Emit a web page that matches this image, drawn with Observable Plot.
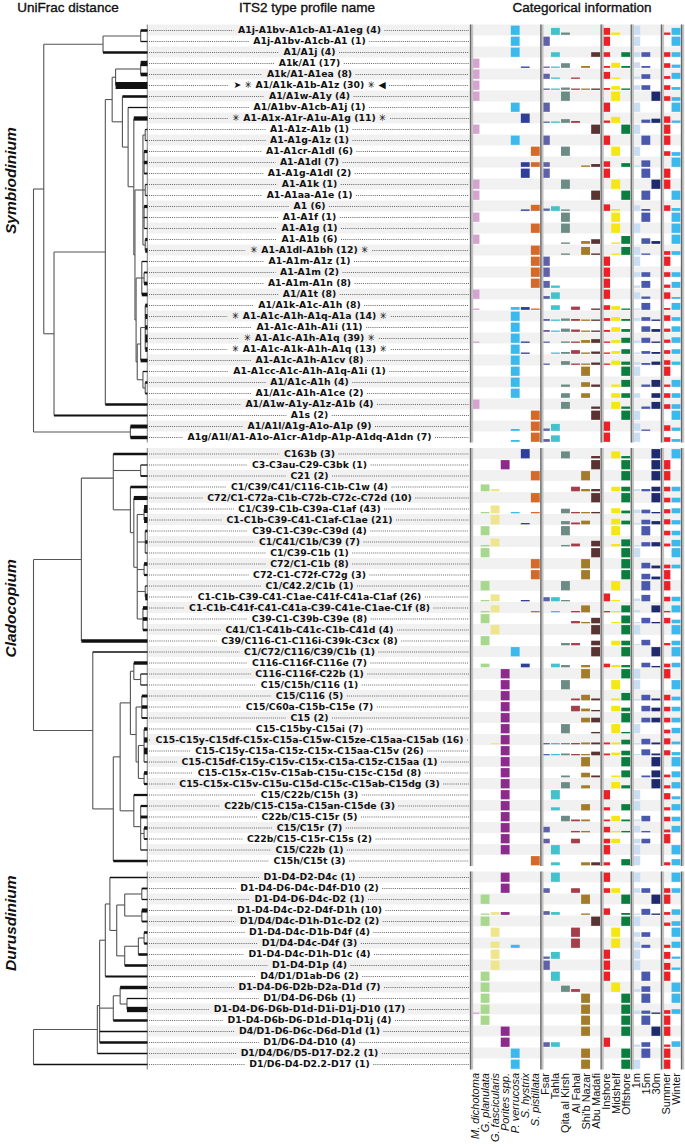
<!DOCTYPE html>
<html><head><meta charset="utf-8">
<script src="https://cdn.jsdelivr.net/npm/d3@7"></script>
<script src="https://cdn.jsdelivr.net/npm/@observablehq/plot@0.6"></script>
<style>
body{margin:0;background:#fff;}
#wrap{position:relative;width:685px;height:1147px;overflow:hidden;font-family:"Liberation Sans",Arial,sans-serif;}
#wrap svg{position:absolute;top:0;}
.hdr{position:absolute;top:0px;font-size:13.5px;transform:translateX(-50%);white-space:nowrap;color:#111;-webkit-text-stroke:0.35px #111;}
</style></head><body><div id="wrap"></div>
<script>
// ---------------- DATA ----------------
const headers = ["UniFrac distance", "ITS2 type profile name", "Categorical information"];
const genusNames = ["Symbiodinium", "Cladocopium", "Durusdinium"];

const speciesNames = ["M. dichotoma", "G. planulata", "G. fascicularis", "Porites spp.", "P. verrucosa", "S. hystrix", "S. pistillata"];
const siteNames = ["Fsar", "Tahla", "Qita al Kirsh", "Al Fahal", "Shi'b Nazar", "Abu Madafi"];
const reefNames = ["Inshore", "Midshelf", "Offshore"];
const depthNames = ["1m", "15m", "30m"];
const seasonNames = ["Summer", "Winter"];

const speciesColors = ["#d6a2cf", "#a8d78e", "#efe58c", "#8c2b8c", "#3cb9ec", "#2f3f99", "#d5692a"];
const siteColors = ["#5f61a9", "#42c2cc", "#6c8b84", "#a63d4b", "#a27b2b", "#593232"];
const reefColors = ["#ee2027", "#f5e615", "#0b7e3f"];
const depthColors = ["#c9ddf3", "#4b59ad", "#1f2a6e"];
const seasonColors = ["#ee2027", "#3cb9ec"];

const symLabels = ["A1j-A1bv-A1cb-A1-A1eg (4)","A1j-A1bv-A1cb-A1 (1)","A1/A1j (4)","A1k/A1 (17)","A1k/A1-A1ea (8)","A1/A1k-A1b-A1z (30)","A1/A1w-A1y (4)","A1/A1bv-A1cb-A1j (1)","A1-A1x-A1r-A1u-A1g (11)","A1-A1z-A1b (1)","A1-A1g-A1z (1)","A1-A1cr-A1dl (6)","A1-A1dl (7)","A1-A1g-A1dl (2)","A1-A1k (1)","A1-A1aa-A1e (1)","A1 (6)","A1-A1f (1)","A1-A1g (1)","A1-A1b (6)","A1-A1dl-A1bh (12)","A1-A1m-A1z (1)","A1-A1m (2)","A1-A1m-A1n (8)","A1/A1t (8)","A1/A1k-A1c-A1h (8)","A1-A1c-A1h-A1q-A1a (14)","A1-A1c-A1h-A1i (11)","A1-A1c-A1h-A1q (39)","A1-A1c-A1k-A1h-A1q (13)","A1-A1c-A1h-A1cv (8)","A1-A1cc-A1c-A1h-A1q-A1i (1)","A1/A1c-A1h (4)","A1/A1c-A1h-A1ce (2)","A1/A1w-A1y-A1z-A1b (4)","A1s (2)","A1/A1l/A1g-A1o-A1p (9)","A1g/A1l/A1-A1o-A1cr-A1dp-A1p-A1dq-A1dn (7)"];
const symStarred = [5, 8, 20, 26, 28, 29];
const symArrow = [5];

const cladoLabels = ["C163b (3)","C3-C3au-C29-C3bk (1)","C21 (2)","C1/C39/C41/C116-C1b-C1w (4)","C72/C1-C72a-C1b-C72b-C72c-C72d (10)","C1/C39-C1b-C39a-C1af (43)","C1-C1b-C39-C41-C1af-C1ae (21)","C39-C1-C39c-C39d (4)","C1/C41/C1b/C39 (7)","C1/C39-C1b (1)","C72/C1-C1b (8)","C72-C1-C72f-C72g (3)","C1/C42.2/C1b (1)","C1-C1b-C39-C41-C1ae-C41f-C41a-C1af (26)","C1-C1b-C41f-C41-C41a-C39-C41e-C1ae-C1f (8)","C39-C1-C39b-C39e (8)","C41/C1-C41b-C41c-C1b-C41d (4)","C39/C116-C1-C116i-C39k-C3cx (8)","C1/C72/C116/C39/C1b (1)","C116-C116f-C116e (7)","C116-C116f-C22b (1)","C15/C15h/C116 (1)","C15/C116 (5)","C15/C60a-C15b-C15e (7)","C15 (2)","C15-C15by-C15ai (7)","C15-C15y-C15df-C15x-C15a-C15w-C15ze-C15aa-C15ab (16)","C15-C15y-C15a-C15z-C15x-C15aa-C15v (26)","C15-C15df-C15y-C15v-C15x-C15a-C15z-C15aa (1)","C15-C15x-C15v-C15ab-C15u-C15c-C15d (8)","C15-C15x-C15v-C15u-C15d-C15c-C15ab-C15dg (3)","C15/C22b/C15h (3)","C22b/C15-C15a-C15an-C15de (3)","C22b/C15-C15r (5)","C15/C15r (7)","C22b/C15-C15r-C15s (2)","C15/C22b (1)","C15h/C15t (3)"];

const durLabels = ["D1-D4-D2-D4c (1)","D1-D4-D6-D4c-D4f-D10 (2)","D1-D4-D6-D4c-D2 (1)","D1-D4-D4c-D2-D4f-D1h (10)","D1/D4/D4c-D1h-D1c-D2 (2)","D1-D4-D4c-D1b-D4f (4)","D1/D4-D4c-D4f (3)","D1-D4-D4c-D1h-D1c (4)","D1-D4-D1p (4)","D4/D1/D1ab-D6 (2)","D1-D4-D6-D2b-D2a-D1d (7)","D1/D4-D6-D6b (1)","D1-D4-D6-D6b-D1d-D1i-D1j-D10 (17)","D1-D4-D6b-D6-D1d-D1q-D1j (4)","D4/D1-D6-D6c-D6d-D1d (1)","D1/D6-D4-D10 (4)","D1/D4/D6/D5-D17-D2.2 (1)","D1/D6-D4-D2.2-D17 (1)"];

// dendrograms: [height, child, child, ...]; leaves are row indices
const symTree = [1.0,
  [0.91,
    [0.39, [0.06, 0, 1], 2],
    [0.82,
      [0.37,
        [0.31,
          [0.28, [0.06, 3, 4], 5],
          [0.22, 6,
            [0.17, 7,
              [0.12, 8,
                [0.11,
                  [0.04, [0.02, 9, 10], [0.03, 11, 12, 13], [0.02, 14, 15], [0.03, 16, 17, 18], [0.02, 19, 20]],
                  [0.1,
                    [0.05, 21, [0.03, 22, 23], 24],
                    [0.09, [0.06, [0.02, 25, 26, 27, 28, 29], 30], [0.04, 31, [0.02, 32, 33]]]]]]]]],
        34],
      35]],
  [0.15, 36, 37]];

const cladoTree = [1.0,
  [0.58,
    [0.30, 0, [0.06, 1, 2],
      [0.15, 3, [0.12, 4, [0.09, [0.03, 5, 6], [0.02, 7, 8, 9], [0.03, 10, 11], [0.02, 12, 13], [0.04, 14, 15, 16]]]]],
    17],
  [0.48, 18,
    [0.30,
      [0.24,
        [0.15, [0.12, 19, [0.06, 20, 21]], [0.1, [0.05, 22, 23, 24], [0.08, [0.03, 25, 26, 27, 28], [0.03, 29, 30]]]],
        [0.12, 31, [0.06, 32, 33, [0.03, 34, 35], 36]]],
      37]]];

const durTree = [1.0,
  [0.44,
    [0.42,
      [0.37,
        [0.33, 0,
          [0.27,
            [0.2, [0.05, 1, 2], [0.05, 3, 4]],
            [0.2, [0.08, [0.03, 5, 6], 7], 8]]],
        9],
      [0.3, [0.24, 10, [0.18, 11, 12]], 13],
      14, 15],
    16],
  17];

// categorical proportions per row
const symSpecies = [[0,0,0,0,1,0,0],[0,0,0,0,1,0,0],[0,0,0,0,1,0,0],[1,0,0,0,0,.06,0],[1,0,0,0,0,0,0],[1,0,0,0,0,0,0],[1,0,0,0,0,0,0],[0,0,0,0,1,0,0],[0,0,0,0,0,1,0],[1,0,0,0,0,0,0],[0,0,0,0,1,0,0],[0,0,0,0,0,0,1],[0,0,0,0,0,.5,.5],[0,0,0,0,0,1,0],[1,0,0,0,0,0,0],[1,0,0,0,0,0,0],[0,0,0,0,0,.15,.65],[1,0,0,0,0,0,0],[0,0,0,0,0,0,1],[1,0,0,0,0,0,0],[0,0,0,0,0,0,1],[0,0,0,0,0,0,1],[0,0,0,0,0,0,1],[0,0,0,0,0,0,1],[1,0,0,0,0,0,0],[.12,0,0,0,.3,.3,.12],[0,0,0,0,1,0,0],[0,0,0,0,1,0,0],[.05,0,0,0,1,.05,0],[0,0,0,0,1,.1,0],[0,0,0,0,1,0,0],[0,0,0,0,1,0,0],[0,0,0,0,1,0,0],[0,0,0,0,1,0,0],[1,0,0,0,0,0,0],[0,0,0,0,0,0,1],[0,0,0,0,.2,0,1],[0,0,0,0,.2,0,1]];
const symSite = [[0,.75,.25,0,0,0],[1,0,0,0,0,0],[0,.5,0,0,0,.5],[.06,.06,.5,0,.2,0],[.55,.12,0,.12,0,0],[.1,.1,.25,.1,.1,.1],[0,0,1,0,0,0],[1,0,0,0,0,0],[.1,.15,.4,.2,0,0],[0,0,0,0,0,1],[1,0,0,0,0,0],[0,0,1,0,0,0],[.5,0,0,0,.15,.3],[1,0,0,0,0,0],[0,0,1,0,0,0],[0,0,0,0,0,1],[.25,.5,.15,0,0,0],[0,0,1,0,0,0],[0,0,1,0,0,0],[0,0,.15,0,.3,.5],[0,0,.15,0,.85,.15],[1,0,0,0,0,0],[1,0,0,0,0,0],[.75,.25,0,0,0,0],[.3,.7,0,0,0,0],[0,.5,0,.35,0,.1],[.2,.1,.25,.2,.1,.1],[.2,.1,.35,.25,.1,.1],[.1,0,.15,.1,.3,.4],[0,.1,.2,.4,.15,.25],[.1,0,.4,.1,.1,.25],[0,0,0,0,1,0],[0,0,.25,0,.5,.25],[0,0,.5,0,.5,0],[0,0,.75,0,0,.25],[0,0,0,0,0,1],[.25,.75,0,0,0,0],[.3,.7,0,0,0,0]];
const symReef = [[.75,.25,0],[1,0,0],[.5,0,.5],[.2,.55,.2],[.75,.12,0],[.2,.4,.15],[0,1,0],[1,0,0],[.25,.65,0],[0,0,1],[1,0,0],[0,1,0],[.6,0,.4],[1,0,0],[0,1,0],[0,0,1],[.7,.2,0],[0,1,0],[0,1,0],[0,.15,.85],[0,.15,.85],[1,0,0],[1,0,0],[1,0,0],[1,0,0],[.5,.4,.1],[.3,.4,.2],[.2,.5,.3],[.15,.3,.55],[.15,.3,.5],[.1,.45,.35],[0,0,1],[0,.25,.75],[0,.5,.5],[0,.75,.25],[0,0,1],[1,0,0],[1,0,0]];
const symDepth = [[1,0,0],[1,0,0],[.5,.5,0],[.6,.2,0],[.25,.5,0],[.5,.5,0],[0,0,1],[1,0,0],[0,.35,.45],[1,0,0],[0,1,0],[1,0,0],[.15,.7,0],[0,1,0],[0,0,1],[0,1,0],[.6,.2,0],[0,1,0],[1,0,0],[0,.6,.3],[.85,.15,0],[1,0,0],[.5,.5,0],[.25,.75,0],[.7,.25,0],[.1,.75,0],[.3,.4,.1],[0,.6,.3],[.25,.55,.1],[.1,.3,.2],[.3,.2,.35],[1,0,0],[0,.25,.75],[.5,0,.5],[0,.25,.75],[1,0,0],[.8,.1,0],[1,0,0]];
const symSeason = [[.25,.75],[0,1],[.5,.5],[.5,.35],[.3,.65],[.5,.3],[.5,.4],[0,1],[.7,.25],[1,0],[1,0],[.5,.4],[0,1],[1,0],[1,0],[0,1],[.6,.3],[0,1],[0,1],[0,1],[.4,.4],[1,0],[.5,.5],[.35,.65],[.7,.2],[.2,.75],[.6,.4],[.35,.6],[.35,.6],[.4,.5],[.5,.35],[1,0],[.25,.75],[.5,.5],[.5,.5],[0,1],[.6,.35],[.5,.3]];

const cladoSpecies = [[0,0,0,0,0,1,0],[0,0,0,1,0,0,0],[0,0,0,0,0,0,1],[0,.75,.25,0,0,0,0],[0,0,0,0,0,0,1],[0,.05,.85,0,.05,0,.05],[0,0,1,0,0,.1,0],[0,1,0,0,0,0,0],[0,.15,.85,0,0,0,0],[0,1,0,0,0,0,0],[0,0,0,0,0,0,1],[0,0,0,0,0,0,1],[0,1,0,0,0,0,0],[0,.1,.75,0,0,.1,0],[0,.1,.75,0,0,0,.1],[0,1,0,0,0,0,0],[0,0,1,0,0,0,0],[0,1,0,0,0,0,0],[0,0,0,0,1,0,0],[0,.4,0,0,0,.4,0],[0,0,0,1,0,0,0],[0,0,0,1,0,0,0],[0,0,0,1,0,0,0],[0,0,0,1,0,0,0],[0,0,0,1,0,0,0],[0,0,0,1,0,0,0],[0,0,.05,1,0,0,0],[0,0,0,1,0,0,0],[0,0,0,1,0,0,0],[0,0,0,1,0,0,0],[0,0,0,1,0,0,0],[0,0,0,1,0,0,0],[0,0,0,1,0,0,0],[0,0,0,1,0,0,0],[0,0,0,1,0,0,0],[0,0,0,1,0,0,0],[0,0,0,1,0,0,0],[0,0,0,0,0,0,1]];
const cladoSite = [[0,0,.75,0,0,.25],[0,0,0,0,0,1],[0,0,0,0,1,0],[0,0,0,.5,.25,.25],[0,0,0,0,0,1],[0,0,.5,.15,.1,.15],[0,0,.35,.2,.4,0],[0,0,1,0,0,0],[0,0,.15,.3,0,.6],[0,0,0,0,0,1],[0,0,0,0,1,0],[0,0,0,0,1,0],[0,0,1,0,0,0],[.45,.45,.1,0,0,0],[0,.12,0,.12,.75,0],[0,0,0,.25,.15,.6],[0,0,0,0,0,1],[0,0,.25,.25,0,.5],[0,0,0,0,0,1],[0,.4,.25,0,.25,0],[0,0,0,0,1,0],[0,0,1,0,0,0],[0,0,0,.2,.6,.2],[0,0,0,.6,.3,.15],[0,0,0,0,.5,.5],[0,0,1,0,0,.15],[.1,.05,.1,.1,.2,.2],[.05,.15,.2,.1,.1,.4],[0,0,0,0,1,0],[0,0,.2,0,.5,.2],[0,0,.67,0,.33,0],[0,1,0,0,0,0],[0,.33,0,0,.67,0],[0,0,.6,.2,.2,0],[.6,0,0,.15,.15,0],[.5,0,0,.5,0,0],[0,1,0,0,0,0],[0,.33,0,0,.33,.33]];
const cladoReef = [[0,.75,.25],[0,0,1],[0,0,1],[0,.5,.5],[0,0,1],[0,.55,.3],[0,.6,.4],[0,1,0],[0,.25,.75],[0,0,1],[0,0,1],[0,0,1],[0,1,0],[.85,.1,0],[.12,.12,.75],[0,.15,.85],[0,0,1],[0,.5,.5],[0,0,1],[.4,.25,.25],[0,0,1],[0,1,0],[0,.2,.8],[0,.6,.4],[0,0,1],[0,1,.15],[.2,.2,.5],[.2,.3,.5],[0,0,1],[0,.2,.75],[0,.67,.33],[1,0,0],[.33,0,.67],[.2,.6,.2],[.6,.15,.15],[.5,.5,0],[1,0,0],[.33,0,.67]];
const cladoDepth = [[0,0,1],[0,0,1],[0,0,1],[.25,.25,.5],[0,0,1],[.4,.4,.1],[.1,.5,.35],[0,1,0],[.1,.45,.45],[1,0,0],[0,.6,.3],[0,.6,.3],[0,1,0],[.3,.7,0],[.25,0,.75],[.1,.6,.15],[1,0,0],[.1,.6,0],[0,0,1],[0,.5,.15],[1,0,0],[1,0,0],[.1,.6,.2],[0,.6,.4],[0,.5,.5],[1,0,0],[.1,.6,.2],[.05,.65,.2],[0,0,1],[0,.2,.75],[0,0,1],[1,0,0],[1,0,0],[.2,.6,0],[.7,.15,0],[.5,.5,0],[1,0,0],[1,0,0]];
const cladoSeason = [[0,1],[1,0],[1,0],[.5,.5],[.5,.5],[.45,.55],[.55,.45],[.5,.5],[.3,.7],[0,1],[.4,.4],[1,0],[1,0],[.5,.5],[.15,.75],[.6,.4],[0,1],[.25,.5],[0,1],[.4,.5],[1,0],[0,1],[.6,.4],[.5,.5],[.5,.5],[.4,.6],[.65,.3],[.55,.35],[0,1],[.3,.65],[.33,.67],[.67,.33],[.33,.67],[.5,.5],[.3,.7],[1,0],[0,1],[.33,.67]];

const durSpecies = [[0,0,0,1,0,0,0],[0,0,0,1,0,0,0],[0,1,0,0,0,0,0],[0,.1,.3,.3,0,0,0],[0,1,0,0,0,0,0],[0,0,1,0,0,0,0],[0,0,.67,0,.33,0,0],[0,0,1,0,0,0,0],[0,0,1,0,0,0,0],[0,1,0,0,0,0,0],[0,1,0,0,0,0,0],[0,1,0,0,0,0,0],[.05,1,0,0,0,0,0],[0,1,0,0,0,0,0],[0,0,0,1,0,0,0],[0,0,0,1,0,0,0],[0,0,0,0,1,0,0],[0,0,0,0,1,0,0]];
const durSite = [[0,1,0,0,0,0],[.5,0,0,.5,0,0],[0,0,0,0,1,0],[.4,.3,0,0,.15,0],[0,0,0,0,0,1],[0,0,0,1,0,0],[0,0,0,1,0,0],[.25,.75,0,0,0,0],[1,0,0,0,0,0],[0,1,0,0,0,0],[0,0,.67,.3,0,0],[0,0,0,0,1,0],[0,0,0,0,1,0],[0,0,0,0,1,0],[0,0,0,0,1,0],[.5,.5,0,0,0,0],[0,0,0,0,1,0],[0,0,0,0,1,0]];
const durReef = [[1,0,0],[.5,.5,0],[0,0,1],[.7,0,.2],[0,0,1],[0,1,0],[0,1,0],[1,0,0],[1,0,0],[1,0,0],[0,1,0],[0,0,1],[0,0,1],[0,0,1],[0,0,1],[1,0,0],[0,0,1],[0,0,1]];
const durDepth = [[1,0,0],[.5,.5,0],[0,0,1],[.1,.65,.1],[1,0,0],[.5,.5,0],[.67,.33,0],[1,0,0],[1,0,0],[0,1,0],[.3,.6,0],[0,1,0],[.35,.35,.1],[0,1,0],[0,0,1],[.25,.5,0],[0,1,0],[1,0,0]];
const durSeason = [[0,1],[.5,.5],[1,0],[.3,.6],[.35,.5],[0,1],[.33,.67],[.75,.25],[.75,.25],[1,0],[0,1],[0,1],[.4,.5],[1,0],[1,0],[.25,.6],[1,0],[1,0]];

// ---------------- BUILD ----------------
const genera = [
  {labels: symLabels, tree: symTree, starred: symStarred, arrow: symArrow, species: symSpecies, site: symSite, reef: symReef, depth: symDepth, season: symSeason},
  {labels: cladoLabels, tree: cladoTree, starred: [], arrow: [], species: cladoSpecies, site: cladoSite, reef: cladoReef, depth: cladoDepth, season: cladoSeason},
  {labels: durLabels, tree: durTree, starred: [], arrow: [], species: durSpecies, site: durSite, reef: durReef, depth: durDepth, season: durSeason}
];
const GAP = 0.5;
const groupStart = [];
{ let s = 0; genera.forEach(g => { groupStart.push(s); s += g.labels.length + GAP; }); }
const nRowsTotal = groupStart[2] + genera[2].labels.length;

const W = 685, H = 1147, MT = 24.5, MB = 77.5;
const Y = {domain: [-0.5, nRowsTotal - 0.5], range: [MT, H - MB], axis: null};

const LABEL_FONT = "bold 9.3px 'DejaVu Sans'";
const ctx = document.createElement("canvas").getContext("2d");
ctx.font = LABEL_FONT;

const rows = [];
genera.forEach((g, gi) => g.labels.forEach((label, i) => {
  const n = +label.match(/\((\d+)\)\s*$/)[1];
  let text = label;
  if (g.starred.includes(i)) text = "\u2733 " + text + " \u2733";
  if (g.arrow.includes(i)) text = "\u27A4 " + text + " \u25C0";
  rows.push({gi, i, label: text, n, pos: groupStart[gi] + i, grey: i % 2 === 0, w: ctx.measureText(text).width});
}));

const groupExtents = genera.map((g, gi) => ({y1: groupStart[gi] - 0.5, y2: groupStart[gi] + g.labels.length - 0.5}));

// dendrogram segments
const intSegs = [], leafSegs = [];
genera.forEach((g, gi) => {
  const walk = node => {
    if (typeof node === "number") return {y: groupStart[gi] + node, h: 0, n: +g.labels[node].match(/\((\d+)\)\s*$/)[1], leaf: true};
    const [h, ...kids] = node;
    const ks = kids.map(walk);
    const ys = ks.map(k => k.y);
    intSegs.push({x1: h, x2: h, y1: d3.min(ys), y2: d3.max(ys)});
    ks.forEach(k => (k.leaf ? leafSegs : intSegs).push({x1: h, x2: k.h, y1: k.y, y2: k.y, n: k.n}));
    return {y: d3.mean(ys), h};
  };
  walk(g.tree);
});
const genusLabels = genera.map((g, gi) => ({name: genusNames[gi], pos: groupStart[gi] + (g.labels.length - 1) / 2}));

// categorical bars
const catGroups = [
  {key: "species", names: speciesNames, colors: speciesColors},
  {key: "site", names: siteNames, colors: siteColors},
  {key: "reef", names: reefNames, colors: reefColors},
  {key: "depth", names: depthNames, colors: depthColors},
  {key: "season", names: seasonNames, colors: seasonColors}
];
let off = 0;
catGroups.forEach(cg => { cg.offset = off; off += cg.names.length; });
const nCols = off;
const colNames = catGroups.flatMap(cg => cg.names);
const bars = rows.flatMap(r => catGroups.flatMap(cg =>
  genera[r.gi][cg.key][r.i].map((v, j) => ({col: cg.offset + j, v, pos: r.pos, fill: cg.colors[j]}))
)).filter(b => b.v > 0);
const sepCols = [...catGroups.map(cg => cg.offset - 0.5), nCols - 0.5];
const seps = groupExtents.flatMap(e => sepCols.map(x => ({x, y1: e.y1, y2: e.y2})));

// ---------------- PLOTS ----------------
const wrap = document.getElementById("wrap");

const dendro = Plot.plot({
  width: 148, height: H, marginLeft: 33, marginRight: 1, marginTop: MT, marginBottom: MB,
  x: {domain: [1, 0], range: [33, 147], axis: null},
  y: Y,
  style: {fontFamily: "'Liberation Sans', Arial, sans-serif", background: "transparent"},
  marks: [
    Plot.ruleX(groupExtents, {x: 0, y1: "y1", y2: "y2", stroke: "#9c9c9c", strokeWidth: 1.6}),
    Plot.link(intSegs, {x1: "x1", y1: "y1", x2: "x2", y2: "y2", stroke: "#555", strokeWidth: 1.1}),
    Plot.link(leafSegs, {x1: "x1", y1: "y1", x2: "x2", y2: "y2", stroke: "#111", strokeWidth: d => Math.min(8, Math.max(1.1, 1.3 * Math.sqrt(d.n)))}),
    Plot.text(genusLabels, {y: "pos", text: "name", frameAnchor: "left", dx: -22, rotate: -90, fontSize: 15.5, fontWeight: "bold", fontStyle: "italic", fill: "#111"})
  ]
});
dendro.style.left = "0px";

const LW = 322, GAPPX = 4;
const leaders = rows.flatMap(r => {
  const half = (r.w / 2 + GAPPX) / LW;
  return [{pos: r.pos, x1: 1 / LW, x2: 0.5 - half}, {pos: r.pos, x1: 0.5 + half, x2: 1 - 1 / LW}];
});
const labels = Plot.plot({
  width: LW, height: H, marginLeft: 0, marginRight: 0, marginTop: MT, marginBottom: MB,
  x: {domain: [0, 1], range: [0, LW], axis: null},
  y: Y,
  style: {background: "transparent"},
  marks: [
    Plot.rect(rows.filter(r => r.grey), {y1: r => r.pos - 0.5, y2: r => r.pos + 0.5, fill: "#f1f1f1"}),
    Plot.ruleY(leaders, {y: "pos", x1: "x1", x2: "x2", stroke: "#555", strokeWidth: 0.9, strokeDasharray: "1,1.1"}),
    Plot.text(rows, {y: "pos", text: "label", frameAnchor: "middle", fontFamily: "DejaVu Sans", fontWeight: "bold", fontSize: 9.3, fill: "#111"})
  ]
});
labels.style.left = "148px";

const cats = Plot.plot({
  width: 219, height: H, marginLeft: 4, marginRight: 4, marginTop: MT, marginBottom: MB,
  x: {domain: [-0.5, nCols - 0.5], range: [4, 215]},
  y: Y,
  color: {type: "identity"},
  style: {fontFamily: "'Liberation Sans', Arial, sans-serif", background: "transparent", color: "#111"},
  marks: [
    Plot.rect(rows.filter(r => r.grey), {y1: r => r.pos - 0.5, y2: r => r.pos + 0.5, fill: "#f1f1f1"}),
    Plot.rect(bars, {x1: b => b.col - 0.44, x2: b => b.col + 0.44, y1: b => b.pos + 0.44 - Math.max(0.12, 0.84 * b.v), y2: b => b.pos + 0.44, fill: "fill"}),
    Plot.ruleX(seps, {x: "x", y1: "y1", y2: "y2", stroke: "#c4c4c4", strokeWidth: 2.6, dx: 1.4}),
    Plot.ruleX(seps, {x: "x", y1: "y1", y2: "y2", stroke: "#666", strokeWidth: 1.3}),
    Plot.axisX(d3.range(0, speciesNames.length), {anchor: "bottom", tickFormat: i => colNames[i], tickRotate: -90, tickSize: 0, tickPadding: 3, fontSize: 11, fontStyle: "italic", label: null}),
    Plot.axisX(d3.range(speciesNames.length, nCols), {anchor: "bottom", tickFormat: i => colNames[i], tickRotate: -90, tickSize: 0, tickPadding: 3, fontSize: 11, label: null})
  ]
});
cats.style.left = "466px";

wrap.append(dendro, labels, cats);

const hdrX = [68, 307, 582];
headers.forEach((t, k) => {
  const d = document.createElement("div");
  d.className = "hdr";
  d.style.left = hdrX[k] + "px";
  d.textContent = t;
  wrap.appendChild(d);
});
</script></body></html>
